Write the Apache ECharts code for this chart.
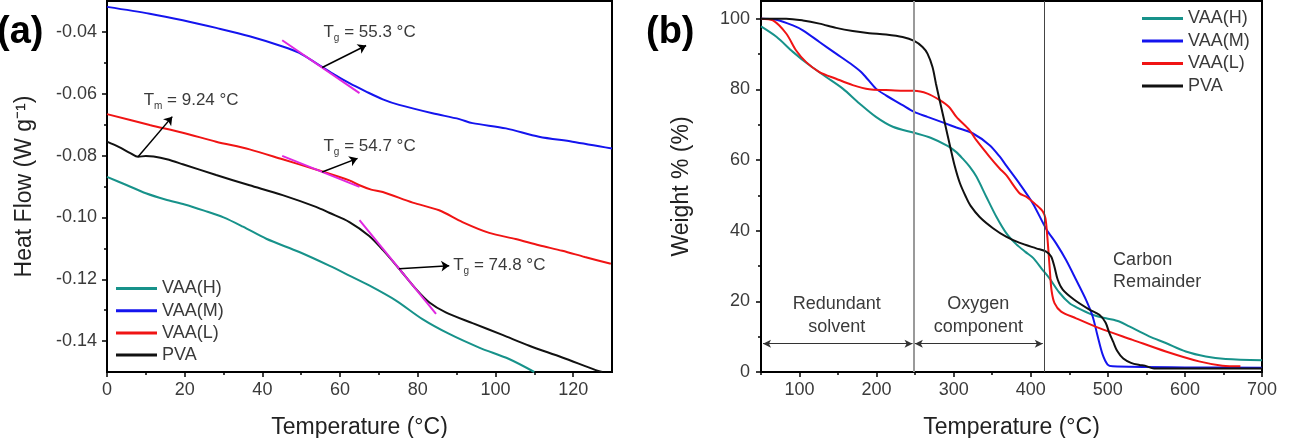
<!DOCTYPE html>
<html>
<head>
<meta charset="utf-8">
<title>DSC / TGA</title>
<script src="https://cdn.jsdelivr.net/npm/echarts@6.0.0/dist/echarts.min.js"></script>
<style>
  html, body { margin: 0; padding: 0; background: #fff; }
  #chart { width: 1295px; height: 438px; }
</style>
</head>
<body>
<div id="chart"></div>
<script>
// names shared by both panels
const names = ['VAA(H)', 'VAA(M)', 'VAA(L)', 'PVA']
const colors = ['#17928a', '#1414ee', '#f01414', '#111111']

// (a) DSC: temperature (°C) and heat flow (W/g), one pair of arrays per curve
const tempHa = [0, 5, 10, 15, 20, 25, 30, 35, 41, 49.5, 57.2, 62.4, 67.5, 74.4, 81.2, 88.1, 95.8, 103.5, 110]
const flowH = [-0.0869, -0.0895, -0.0922, -0.0942, -0.0958, -0.0978, -0.1000, -0.1030, -0.1069, -0.1112, -0.1156, -0.1188, -0.1220, -0.1269, -0.1329, -0.1377, -0.1421, -0.1458, -0.1500]
const tempMa = [0, 11, 19.5, 28.1, 36.7, 45.2, 49.5, 53.8, 58.1, 62.4, 66.7, 71, 75.2, 83.8, 90.7, 94.1, 102.7, 111.2, 119.8, 130]
const flowM = [-0.0319, -0.0341, -0.0362, -0.0387, -0.0414, -0.0447, -0.0468, -0.0501, -0.0535, -0.0566, -0.0593, -0.0618, -0.0636, -0.0663, -0.0682, -0.0695, -0.0712, -0.0739, -0.0755, -0.0777]
const tempLa = [0, 11, 19.5, 28.1, 36.7, 45.2, 53.8, 62.4, 65, 68, 71, 78.7, 85.5, 91.5, 98.4, 105.2, 111.2, 117.2, 123, 129.7]
const flowL = [-0.0666, -0.0701, -0.0726, -0.0755, -0.0780, -0.0812, -0.0845, -0.0880, -0.0896, -0.0910, -0.0918, -0.0952, -0.0977, -0.1015, -0.1050, -0.1070, -0.1090, -0.1108, -0.1128, -0.1150]
const tempPa = [0, 3, 6, 8, 10, 12, 15.4, 19.5, 28.1, 36.7, 45.2, 53.8, 57.2, 62.4, 67.5, 71, 75.2, 79.5, 83, 87.2, 94.1, 101.8, 108.7, 117.2, 125.8, 127.5]
const flowP = [-0.0755, -0.0772, -0.0792, -0.0804, -0.0801, -0.0803, -0.0812, -0.0828, -0.0863, -0.0896, -0.0928, -0.0966, -0.0985, -0.1015, -0.1060, -0.1105, -0.1166, -0.1231, -0.1275, -0.1307, -0.1342, -0.1380, -0.1415, -0.1453, -0.1494, -0.1500]

// (b) TGA: temperature (°C) and weight %
const tempHb = [50, 70.4, 91.4, 113, 134.5, 156.1, 177.7, 199.1, 221, 248.7, 270, 292, 303, 312, 320.7, 329.4, 342.3, 355.2, 368.2, 381, 393, 403, 415, 424.3, 437, 450, 460, 480, 497.6, 514.8, 527.8, 553.6, 575.2, 601.1, 627, 652.8, 700]
const wH = [97.8, 94.8, 90.6, 86.8, 83.5, 80.2, 76.0, 72.2, 69.4, 67.7, 66.3, 64.0, 62.3, 60.3, 58.1, 55.3, 49.6, 44.0, 39.3, 36.2, 34.0, 32.3, 29.0, 26.5, 22.5, 19.5, 18.2, 16.2, 15.2, 14.3, 12.9, 10.1, 8.2, 5.8, 4.4, 3.7, 3.3]
const tempMb = [50, 69.8, 91.4, 104.3, 125.8, 147.4, 169, 181.8, 199.1, 212.1, 233.7, 248.7, 266, 287.5, 303.5, 325, 346.6, 359.6, 368.2, 385.4, 402.7, 420, 432.9, 445.8, 458.8, 471.7, 480.3, 486.8, 493.3, 499.7, 506.2, 600, 700]
const wM = [100, 99.7, 98.1, 96.7, 93.4, 90.1, 86.8, 84.5, 80.2, 78.3, 75.5, 73.6, 72.2, 70.5, 69.2, 67.5, 64.2, 61.0, 58.4, 53.3, 47.7, 40.5, 36.4, 31.7, 26.1, 20.4, 15.7, 10.1, 4.9, 2.1, 1.6, 1.3, 1.2]
const tempLb = [50, 65.5, 82.7, 95.6, 108.6, 125.8, 147.4, 169, 190.5, 212.1, 233.7, 248.7, 266, 281.5, 294, 303.5, 320.7, 329.4, 346.6, 359.6, 368.2, 385.4, 394.1, 407, 415.7, 419, 421, 423, 425, 427, 430.8, 439.4, 458.8, 489, 532.1, 575.2, 618.3, 648.5, 672]
const wL = [100, 99.5, 95.8, 91.0, 87.7, 84.9, 83.0, 81.2, 80.0, 79.8, 79.6, 79.6, 78.8, 77.0, 75.0, 72.2, 68.4, 65.6, 60.9, 57.6, 55.7, 50.6, 49.6, 47.3, 45.4, 43.5, 39.5, 34.0, 28.0, 23.0, 19.5, 17.1, 15.2, 12.4, 9.1, 5.8, 3.0, 1.8, 1.6]
const tempPb = [50, 82.7, 104.3, 125.8, 147.4, 169, 190.5, 212.1, 233.7, 248.7, 259.6, 266, 272.5, 277, 282.5, 289, 295, 301, 308, 316, 322, 334, 351, 368, 385, 407, 420, 426.4, 430.7, 435, 441.5, 456, 475, 489, 497, 502, 507, 512, 520, 530, 541, 548, 560, 700]
const wP = [100, 100, 99.5, 98.6, 97.4, 96.5, 95.9, 95.5, 94.8, 93.7, 92.0, 90.1, 86.3, 81.6, 76.2, 70.0, 64.2, 58.6, 53.5, 49.5, 47.0, 43.8, 40.7, 38.3, 36.6, 35.0, 34.1, 32.7, 29.8, 26.1, 23.3, 20.5, 17.8, 16.2, 14.0, 11.0, 8.5, 6.0, 3.8, 2.6, 2.0, 1.8, 1.0, 1.0]

// tick values
const ticksXa = [0, 20, 40, 60, 80, 100, 120]
const minorXa = [10, 30, 50, 70, 90, 110]
const ticksYa = [-0.14, -0.12, -0.10, -0.08, -0.06, -0.04]
const minorYa = [-0.13, -0.11, -0.09, -0.07, -0.05]
const ticksXb = [100, 200, 300, 400, 500, 600, 700]
const minorXb = [50, 150, 250, 350, 450, 550, 650]
const ticksYb = [0, 20, 40, 60, 80, 100]
const minorYb = [10, 30, 50, 70, 90]

// annotations (data coordinates)
const tangentM = [[45.1, -0.0427], [65.0, -0.0598]]
const arrowM = [[55.4, -0.0515], [66.7, -0.0444]]
const labelM = [55.6, -0.0402]
const tangentL = [[45.1, -0.0801], [65.0, -0.0901]]
const arrowL = [[55.4, -0.0853], [64.5, -0.0809]]
const labelL = [55.6, -0.0769]
const arrowTm = [[8.0, -0.0804], [16.8, -0.0674]]
const labelTm = [9.3, -0.0622]
const tangentP = [[65.0, -0.1009], [84.7, -0.1312]]
const arrowP = [[75.2, -0.1166], [88.1, -0.1156]]
const labelP = [89.0, -0.1155]
const stageLines = [248.3, 416.9]
const spanSolvent = [[52.6, 8], [246.6, 8]]
const spanOxygen = [[249.6, 8], [415.6, 8]]

const FONT = 'Liberation Sans, Arial, sans-serif'
const TEXT = '#3a3a3a'
const zip = (xs, ys) => xs.map((x, i) => [x, ys[i]])

const rich = {
  t: { fontSize: 17, lineHeight: 22, color: TEXT, fontFamily: FONT },
  s: { fontSize: 10, lineHeight: 10, verticalAlign: 'bottom', color: TEXT, fontFamily: FONT }
}
function tLabel (coord, sub, rest) {
  return {
    coord,
    label: { show: true, position: 'right', distance: 0, formatter: `{t|T}{s|${sub}}{t|${rest}}`, rich }
  }
}
function seg (pts, color, width, arrowEnd) {
  return [
    { coord: pts[0], symbol: 'none', lineStyle: { color, width, type: 'solid' } },
    { coord: pts[1], symbol: arrowEnd ? 'arrow' : 'none', symbolSize: 8 }
  ]
}
const MAGENTA = '#e028e0'
const markA = (lines, points) => ({
  markLine: { silent: true, symbol: ['none', 'none'], label: { show: false }, emphasis: { disabled: true }, data: lines },
  markPoint: { silent: true, symbol: 'circle', symbolSize: 1, itemStyle: { color: 'rgba(0,0,0,0)' }, data: points }
})

function mainAxis (gridIndex, min, max, ticks, extra) {
  return Object.assign({
    type: 'value', gridIndex, min, max,
    axisLine: { show: true, onZero: false, lineStyle: { color: '#000', width: 2 } },
    axisTick: { show: true, customValues: ticks, length: 5, lineStyle: { color: '#000', width: 1.5 } },
    axisLabel: { customValues: ticks, fontSize: 18, color: TEXT, fontFamily: FONT },
    splitLine: { show: false },
    nameLocation: 'middle',
    nameTextStyle: { fontSize: 23, color: '#222', fontFamily: FONT }
  }, extra)
}
function minorAxis (gridIndex, min, max, ticks, position) {
  return {
    type: 'value', gridIndex, min, max, position,
    axisLine: { show: false, onZero: false },
    axisTick: { show: true, customValues: ticks, length: 3, lineStyle: { color: '#000', width: 1.5 } },
    axisLabel: { show: false },
    splitLine: { show: false }
  }
}

const chart = echarts.init(document.getElementById('chart'))

const lineSeries = (name, idx, data, xi, yi, extra) => Object.assign({
  name, type: 'line', xAxisIndex: xi, yAxisIndex: yi, data,
  symbol: 'none', smooth: 0.3,
  lineStyle: { color: colors[idx], width: 2 }, itemStyle: { color: colors[idx] },
  emphasis: { disabled: true }
}, extra || {})

chart.setOption({
  animation: false,
  textStyle: { fontFamily: FONT },
  grid: [
    { left: 107, right: 683, top: 1, bottom: 66, show: true, borderColor: '#000', borderWidth: 2, outerBoundsMode: 'none' },
    { left: 761, right: 33, top: 1, bottom: 66, show: true, borderColor: '#000', borderWidth: 2, outerBoundsMode: 'none' }
  ],
  xAxis: [
    mainAxis(0, 0, 130, ticksXa, { position: 'bottom', name: 'Temperature (°C)', nameGap: 44, axisLabel: { customValues: ticksXa, fontSize: 18, color: TEXT, fontFamily: FONT, margin: 9 } }),
    minorAxis(0, 0, 130, minorXa, 'bottom'),
    mainAxis(1, 50, 700, ticksXb, { position: 'bottom', name: 'Temperature (°C)', nameGap: 44, axisLabel: { customValues: ticksXb, fontSize: 18, color: TEXT, fontFamily: FONT, margin: 9 } }),
    minorAxis(1, 50, 700, minorXb, 'bottom')
  ],
  yAxis: [
    mainAxis(0, -0.15, -0.03, ticksYa, {
      position: 'left', name: 'Heat Flow (W g⁻¹)', nameGap: 71,
      axisLabel: { customValues: ticksYa, fontSize: 18, color: TEXT, fontFamily: FONT, margin: 10, formatter: v => v.toFixed(2) }
    }),
    minorAxis(0, -0.15, -0.03, minorYa, 'left'),
    mainAxis(1, 0, 105, ticksYb, {
      position: 'left', name: 'Weight % (%)', nameGap: 68,
      axisLabel: { customValues: ticksYb, fontSize: 18, color: TEXT, fontFamily: FONT, margin: 11 }
    }),
    minorAxis(1, 0, 105, minorYb, 'left')
  ],
  legend: [
    {
      data: names, orient: 'vertical', left: 111, top: 274.5, icon: 'rect', itemWidth: 41, itemHeight: 3, itemGap: 4.2,
      selectedMode: false, textStyle: { fontSize: 18, lineHeight: 18, color: TEXT, fontFamily: FONT }
    },
    {
      data: names, orient: 'vertical', left: 1137, top: 4.5, icon: 'rect', itemWidth: 41, itemHeight: 3, itemGap: 4.5,
      selectedMode: false, textStyle: { fontSize: 18, lineHeight: 18, color: TEXT, fontFamily: FONT }
    }
  ],
  graphic: [
    { type: 'text', x: -3, y: 33, style: { text: '(a)', fontSize: 38, fontWeight: 'bold', fontFamily: FONT, fill: '#000', verticalAlign: 'middle' } },
    { type: 'text', x: 646, y: 33, style: { text: '(b)', fontSize: 38, fontWeight: 'bold', fontFamily: FONT, fill: '#000', verticalAlign: 'middle' } }
  ],
  series: [
    lineSeries(names[0], 0, zip(tempHa, flowH), 0, 0),
    lineSeries(names[1], 1, zip(tempMa, flowM), 0, 0, markA(
      [seg(tangentM, MAGENTA, 2, false), seg(arrowM, '#000', 1.5, true)],
      [tLabel(labelM, 'g', ' = 55.3 °C')]
    )),
    lineSeries(names[2], 2, zip(tempLa, flowL), 0, 0, markA(
      [seg(tangentL, MAGENTA, 2, false), seg(arrowL, '#000', 1.5, true)],
      [tLabel(labelL, 'g', ' = 54.7 °C')]
    )),
    lineSeries(names[3], 3, zip(tempPa, flowP), 0, 0, markA(
      [seg(tangentP, MAGENTA, 2, false), seg(arrowP, '#000', 1.5, true), seg(arrowTm, '#000', 1.5, true)],
      [tLabel(labelP, 'g', ' = 74.8 °C'), tLabel(labelTm, 'm', ' = 9.24 °C')]
    )),

    lineSeries(names[0], 0, zip(tempHb, wH), 2, 2),
    lineSeries(names[1], 1, zip(tempMb, wM), 2, 2),
    lineSeries(names[2], 2, zip(tempLb, wL), 2, 2),
    lineSeries(names[3], 3, zip(tempPb, wP), 2, 2, {
      markLine: {
        silent: true, symbol: ['none', 'none'], label: { show: false }, emphasis: { disabled: true },
        data: [
          { xAxis: stageLines[0], lineStyle: { color: '#9a9a9a', width: 2, type: 'solid' } },
          { xAxis: stageLines[1], lineStyle: { color: '#444', width: 1, type: 'solid' } },
          [
            { coord: spanSolvent[0], symbol: 'arrow', symbolSize: [6, 8], lineStyle: { color: '#333', width: 1, type: 'solid' } },
            { coord: spanSolvent[1], symbol: 'arrow', symbolSize: [6, 8] }
          ],
          [
            { coord: spanOxygen[0], symbol: 'arrow', symbolSize: [6, 8], lineStyle: { color: '#333', width: 1, type: 'solid' } },
            { coord: spanOxygen[1], symbol: 'arrow', symbolSize: [6, 8] }
          ]
        ]
      },
      markPoint: {
        silent: true, symbol: 'circle', symbolSize: 1, itemStyle: { color: 'rgba(0,0,0,0)' },
        label: { show: true, position: 'inside', fontSize: 18, lineHeight: 23, color: TEXT, fontFamily: FONT, align: 'center' },
        data: [
          { coord: [148.2, 16.0], label: { formatter: 'Redundant\nsolvent' } },
          { coord: [332, 16.0], label: { formatter: 'Oxygen\ncomponent' } },
          { coord: [506.2, 28.7], label: { formatter: 'Carbon\nRemainder', position: 'right', distance: 0, align: 'left', lineHeight: 22 } }
        ]
      }
    })
  ]
})
</script>
</body>
</html>
